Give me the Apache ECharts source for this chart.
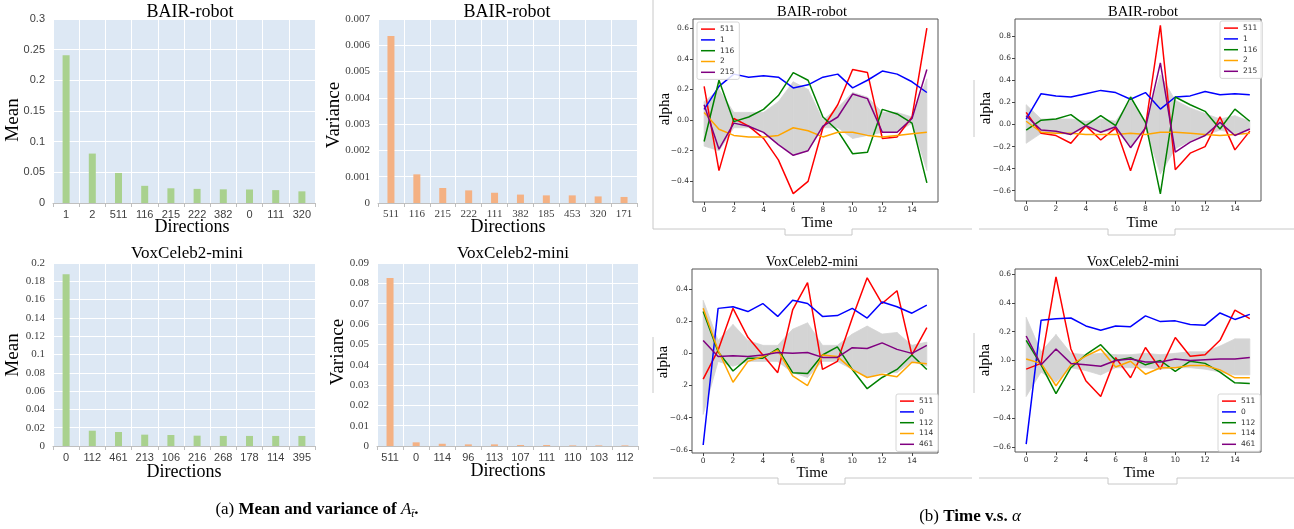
<!DOCTYPE html>
<html><head><meta charset="utf-8">
<script src="https://cdn.jsdelivr.net/npm/echarts@6/dist/echarts.min.js"></script>
<style>html,body{margin:0;padding:0;background:#fff}#c{width:1294px;height:529px}</style>
</head><body><div id="c"></div>
<script>
// ---------------- bar charts (a) ----------------
const BAIR_MEAN_DIRS = ['1','2','511','116','215','222','382','0','111','320'];
const BAIR_MEAN = [0.241,0.0806,0.049,0.028,0.024,0.023,0.0223,0.022,0.021,0.019];
const BAIR_VAR_DIRS = ['511','116','215','222','111','382','185','453','320','171'];
const BAIR_VAR = [0.00635,0.00109,0.00057,0.00048,0.00039,0.00032,0.00029,0.00029,0.00025,0.00023];
const VOX_MEAN_DIRS = ['0','112','461','213','106','216','268','178','114','395'];
const VOX_MEAN = [0.1876,0.0167,0.0153,0.0124,0.012,0.0113,0.011,0.011,0.011,0.011];
const VOX_VAR_DIRS = ['511','0','114','96','113','107','111','110','103','112'];
const VOX_VAR = [0.0826,0.0018,0.0011,0.0008,0.0008,0.0005,0.0005,0.0003,0.0003,0.0003];

// ---------------- line charts (b) ----------------
const TIME = [0,1,2,3,4,5,6,7,8,9,10,11,12,13,14,15];
const TIME_TICKS = [0,2,4,6,8,10,12,14];

// BAIR-robot, left
const A_NAMES = ['511','1','116','2','215'];
const A_511 = [0.22,-0.33,0.01,-0.04,-0.12,-0.26,-0.48,-0.40,-0.05,0.10,0.33,0.31,-0.12,-0.11,0.02,0.60];
const A_1   = [0.07,0.22,0.30,0.28,0.29,0.28,0.21,0.23,0.28,0.30,0.21,0.26,0.32,0.30,0.25,0.18];
const A_116 = [-0.14,0.26,-0.01,0.02,0.07,0.16,0.31,0.26,0.02,-0.07,-0.22,-0.21,0.07,0.04,-0.02,-0.41];
const A_2   = [0.05,-0.06,-0.10,-0.11,-0.11,-0.10,-0.05,-0.07,-0.11,-0.08,-0.08,-0.10,-0.11,-0.10,-0.09,-0.08];
const A_215 = [0.10,-0.19,-0.02,-0.04,-0.08,-0.16,-0.23,-0.20,-0.04,0.02,0.17,0.14,-0.08,-0.08,0.01,0.33];
const A_HI  = [0.12,0.20,0.05,0.05,0.05,0.12,0.25,0.20,0.00,0.08,0.18,0.15,0.05,0.05,0.02,0.27];
const A_LO  = [-0.17,-0.20,-0.05,-0.05,-0.08,-0.15,-0.23,-0.20,-0.05,-0.05,-0.12,-0.10,-0.08,-0.08,-0.02,-0.33];
const A_Y_TICKS = [-0.4,-0.2,0,0.2,0.4,0.6];

// BAIR-robot, right
const B_511 = [0.11,-0.08,-0.10,-0.17,-0.01,-0.14,-0.03,-0.42,-0.02,0.90,-0.41,-0.26,-0.20,0.07,-0.23,-0.06];
const B_1   = [0.05,0.28,0.26,0.25,0.28,0.31,0.29,0.23,0.29,0.14,0.25,0.26,0.30,0.27,0.28,0.27];
const B_116 = [-0.05,0.04,0.05,0.09,-0.01,0.08,-0.01,0.25,0.02,-0.63,0.25,0.18,0.12,-0.04,0.14,0.03];
const B_2   = [0.03,-0.07,-0.08,-0.08,-0.09,-0.09,-0.09,-0.08,-0.09,-0.07,-0.07,-0.08,-0.09,-0.10,-0.09,-0.08];
const B_215 = [0.08,-0.05,-0.06,-0.09,-0.01,-0.07,-0.02,-0.21,-0.03,0.56,-0.25,-0.16,-0.10,0.02,-0.10,-0.04];
const B_HI  = [0.18,0.05,0.05,0.05,0.03,0.05,0.03,0.22,0.02,0.45,0.22,0.15,0.10,0.05,0.08,0.03];
const B_LO  = [-0.17,-0.08,-0.08,-0.09,-0.03,-0.07,-0.05,-0.20,-0.03,-0.45,-0.22,-0.15,-0.10,-0.05,-0.08,-0.05];
const B_Y_TICKS = [-0.6,-0.4,-0.2,0,0.2,0.4,0.6,0.8];

// VoxCeleb2-mini, left
const C_NAMES = ['511','0','112','114','461'];
const C_511 = [-0.16,0.02,0.28,0.10,-0.01,-0.12,0.27,0.44,-0.10,-0.05,0.22,0.47,0.31,0.39,-0.01,0.16];
const C_0   = [-0.57,0.28,0.29,0.26,0.31,0.23,0.33,0.31,0.23,0.235,0.28,0.22,0.32,0.29,0.25,0.30];
const C_112 = [0.26,0.01,-0.11,-0.03,-0.03,0.03,-0.12,-0.125,-0.01,0.04,-0.10,-0.22,-0.15,-0.10,-0.01,-0.10];
const C_114 = [0.28,0.02,-0.18,-0.05,-0.02,0.02,-0.14,-0.20,-0.01,-0.02,-0.10,-0.15,-0.13,-0.145,-0.055,-0.065];
const C_461 = [0.08,-0.02,-0.015,-0.02,-0.01,0.005,0.0,0.005,-0.025,-0.025,0.035,0.03,0.065,0.025,0.0,0.05];
const C_HI  = [0.33,0.08,0.18,0.08,0.05,0.05,0.15,0.19,0.05,0.05,0.12,0.17,0.12,0.13,0.05,0.07];
const C_LO  = [-0.38,-0.05,-0.08,-0.05,-0.05,-0.05,-0.12,-0.15,-0.05,-0.05,-0.10,-0.15,-0.12,-0.12,-0.05,-0.08];
const C_Y_TICKS = [-0.6,-0.4,-0.2,0,0.2,0.4];

// VoxCeleb2-mini, right
const D_511 = [-0.06,-0.02,0.58,0.08,-0.14,-0.25,0.02,-0.12,0.09,-0.06,0.16,0.03,0.04,0.14,0.35,0.29];
const D_0   = [-0.58,0.28,0.29,0.295,0.24,0.21,0.24,0.235,0.31,0.27,0.275,0.25,0.245,0.33,0.285,0.32];
const D_112 = [0.14,-0.03,-0.23,-0.05,0.04,0.11,0.0,0.02,-0.03,0.0,-0.075,-0.005,-0.02,-0.08,-0.155,-0.16];
const D_114 = [0.01,-0.02,-0.175,-0.03,0.03,0.08,-0.045,-0.005,-0.095,-0.05,-0.05,-0.035,-0.035,-0.065,-0.12,-0.12];
const D_461 = [0.17,-0.03,0.08,-0.02,-0.03,-0.04,0.0,0.01,-0.01,-0.01,0.01,0.0,0.005,0.01,0.01,0.02];
const D_HI  = [0.30,0.06,0.18,0.05,0.04,0.05,0.04,0.04,0.05,0.04,0.05,0.06,0.06,0.10,0.15,0.15];
const D_LO  = [-0.25,-0.08,-0.15,-0.05,-0.07,-0.10,-0.05,-0.05,-0.05,-0.06,-0.05,-0.05,-0.06,-0.08,-0.10,-0.10];
const D_Y_TICKS = [-0.6,-0.4,-0.2,0,0.2,0.4,0.6];

const LINE_COLORS = ['#ff0000','#0000ff','#008000','#ffa500','#800080'];

// ---------------- build option ----------------
const grids = [], xAxes = [], yAxes = [], series = [], legends = [], graphics = [];
const SERIF = 'Liberation Serif';
const SANS = 'Liberation Sans';

function addBar(rect, cats, vals, color, yMax, yInt, yFont, xFont) {
  const gi = grids.length;
  grids.push({left: rect[0], top: rect[1], width: rect[2], height: rect[3], show: true,
    backgroundColor: '#dde8f4', borderWidth: 0});
  xAxes.push({type: 'category', gridIndex: gi, data: cats,
    axisLine: {lineStyle: {color: '#bfbfbf'}},
    axisTick: {show: true, length: 4, lineStyle: {color: '#bfbfbf'}},
    axisLabel: {color: '#404040', fontSize: 11, fontFamily: xFont, margin: 6},
    splitLine: {show: true, lineStyle: {color: '#ffffff', width: 1}}});
  yAxes.push({type: 'value', gridIndex: gi, min: 0, max: yMax, interval: yInt,
    axisLine: {show: false}, axisTick: {show: false},
    axisLabel: {color: '#404040', fontSize: 11, fontFamily: yFont, margin: 8},
    splitLine: {show: true, lineStyle: {color: '#ffffff', width: 1}}});
  series.push({type: 'bar', xAxisIndex: gi, yAxisIndex: gi, data: vals, barWidth: 7,
    itemStyle: {color: color}, silent: true});
}

function fmtTick(v) {
  const s = Math.abs(v).toFixed(1);
  return v < -1e-9 ? '\u2212' + s : s;
}

function bandRender(params, api) {
  const i = params.dataIndexInside;
  if (i >= TIME.length - 1) return null;
  const p0h = api.coord([api.value(0, i), api.value(2, i)]);
  const p1h = api.coord([api.value(0, i + 1), api.value(2, i + 1)]);
  const p1l = api.coord([api.value(0, i + 1), api.value(1, i + 1)]);
  const p0l = api.coord([api.value(0, i), api.value(1, i)]);
  return {type: 'polygon', shape: {points: [p0h, p1h, p1l, p0l]},
    style: {fill: '#d4d4d4', stroke: '#d4d4d4', lineWidth: 0.8}};
}

function addLine(rect, yMin, yMax, yTicks, names, arrs, lo, hi, legendPos) {
  const gi = grids.length;
  grids.push({left: rect[0], top: rect[1], width: rect[2], height: rect[3], show: true,
    backgroundColor: 'transparent', borderColor: '#555', borderWidth: 1});
  xAxes.push({type: 'value', gridIndex: gi, min: -0.75, max: 15.75,
    axisLine: {show: false, onZero: false},
    axisTick: {show: true, customValues: TIME_TICKS, length: 3, lineStyle: {color: '#444'}},
    axisLabel: {customValues: TIME_TICKS, fontSize: 7.5, color: '#333', fontFamily: 'DejaVu Sans', margin: 4},
    splitLine: {show: false}});
  yAxes.push({type: 'value', gridIndex: gi, min: yMin, max: yMax,
    axisLine: {show: false, onZero: false},
    axisTick: {show: true, customValues: yTicks, length: 3, lineStyle: {color: '#444'}},
    axisLabel: {customValues: yTicks, fontSize: 7.5, color: '#333', fontFamily: 'DejaVu Sans', margin: 4,
      formatter: fmtTick},
    splitLine: {show: false}});
  series.push({type: 'custom', name: 'band-' + gi, xAxisIndex: gi, yAxisIndex: gi,
    data: TIME.map((t, i) => [t, lo[i], hi[i]]), encode: {x: 0, y: [1, 2]},
    renderItem: bandRender, clip: true, silent: true, z: 1});
  names.forEach((nm, k) => {
    series.push({type: 'line', name: nm, xAxisIndex: gi, yAxisIndex: gi,
      data: TIME.map((t, i) => [t, arrs[k][i]]), symbol: 'none', silent: true, z: 3,
      color: LINE_COLORS[k],
      lineStyle: {color: LINE_COLORS[k], width: 1.5}});
  });
  legends.push({orient: 'vertical', left: legendPos[0], top: legendPos[1], data: names,
    icon: 'rect', itemWidth: 14, itemHeight: 1.5, itemGap: 2.6, selectedMode: false,
    textStyle: {fontSize: 7.5, color: '#333', fontFamily: 'DejaVu Sans', lineHeight: 8.2},
    padding: [3, 5, 3, 4], borderColor: '#cccccc', borderWidth: 0.8, borderRadius: 2,
    backgroundColor: 'rgba(255,255,255,0.85)'});
}

addBar([53, 19, 262, 184], BAIR_MEAN_DIRS, BAIR_MEAN, '#a9d18e', 0.3, 0.05, SANS, SANS);
addBar([378, 19, 259, 184], BAIR_VAR_DIRS, BAIR_VAR, '#f4b183', 0.007, 0.001, SERIF, SERIF);
addBar([53, 263, 262, 183], VOX_MEAN_DIRS, VOX_MEAN, '#a9d18e', 0.2, 0.02, SERIF, SANS);
addBar([377, 263, 261, 183], VOX_VAR_DIRS, VOX_VAR, '#f4b183', 0.09, 0.01, SERIF, SANS);

addLine([693, 19, 245, 183], -0.535, 0.66, A_Y_TICKS, A_NAMES, [A_511, A_1, A_116, A_2, A_215], A_LO, A_HI, [697, 22]);
addLine([1015, 19, 246, 182], -0.694, 0.958, B_Y_TICKS, A_NAMES, [B_511, B_1, B_116, B_2, B_215], B_LO, B_HI, [1220, 21]);
addLine([692, 269, 246, 184], -0.62, 0.525, C_Y_TICKS, C_NAMES, [C_511, C_0, C_112, C_114, C_461], C_LO, C_HI, [896, 394]);
addLine([1015, 269, 246, 183], -0.635, 0.635, D_Y_TICKS, C_NAMES, [D_511, D_0, D_112, D_114, D_461], D_LO, D_HI, [1218, 394]);

// ---------------- text & frame decorations ----------------
function txt(x, y, text, size, opts) {
  opts = opts || {};
  return {type: 'text', x: x, y: y, rotation: opts.rot || 0, z: 100, silent: true,
    style: {text: text, fontSize: size, fontFamily: opts.family || SERIF, fontWeight: opts.weight || 'normal',
      fill: opts.color || '#000', align: 'center', verticalAlign: 'middle',
      textAlign: 'center', textVerticalAlign: 'middle'}};
}
function rect(x, y, w, h) {
  return {type: 'rect', z: 99, silent: true, shape: {x: x, y: y, width: w, height: h},
    style: {fill: '#ffffff', stroke: null}};
}
function poly(points) {
  return {type: 'polyline', z: 98, silent: true, shape: {points: points},
    style: {stroke: '#c8c8c8', lineWidth: 1, fill: null}};
}

// frames of the pasted line-plot images
graphics.push(poly([[653, 0], [653, 229], [785, 229], [785, 235], [852, 235], [852, 229], [972, 229]]));
graphics.push(poly([[979, 229], [1108, 229], [1108, 235], [1175, 235], [1175, 229], [1294, 229]]));
graphics.push(poly([[653, 478], [778, 478], [778, 484], [845, 484], [845, 478], [972, 478]]));
graphics.push(poly([[979, 478], [1108, 478], [1108, 484], [1177, 484], [1177, 478], [1294, 478]]));
// "alpha" label boxes
graphics.push(rect(654, 81, 22, 57));
graphics.push(rect(975, 80, 24, 57));
graphics.push(rect(654, 337, 28, 56));
graphics.push(rect(975, 333, 26, 61));
graphics.push(poly([[974, 80], [974, 137]]));
graphics.push(poly([[653, 337], [653, 393]]));
graphics.push(poly([[974, 333], [974, 393]]));

// bar chart titles & axis names
graphics.push(txt(190, 12, 'BAIR-robot', 18));
graphics.push(txt(507, 12, 'BAIR-robot', 18));
graphics.push(txt(187, 254, 'VoxCeleb2-mini', 17));
graphics.push(txt(513, 254, 'VoxCeleb2-mini', 17));
graphics.push(txt(13, 120, 'Mean', 19, {rot: Math.PI / 2}));
graphics.push(txt(334, 115, 'Variance', 19, {rot: Math.PI / 2}));
graphics.push(txt(13, 355, 'Mean', 19, {rot: Math.PI / 2}));
graphics.push(txt(338, 352, 'Variance', 19, {rot: Math.PI / 2}));
graphics.push(txt(192, 227, 'Directions', 18));
graphics.push(txt(508, 227, 'Directions', 18));
graphics.push(txt(184, 472, 'Directions', 18));
graphics.push(txt(508, 471, 'Directions', 18));

// line chart titles & axis names
graphics.push(txt(812, 12, 'BAIR-robot', 14.5));
graphics.push(txt(1143, 12, 'BAIR-robot', 14.5));
graphics.push(txt(812, 262, 'VoxCeleb2-mini', 14));
graphics.push(txt(1133, 262, 'VoxCeleb2-mini', 14));
graphics.push(txt(665, 109, 'alpha', 15, {rot: Math.PI / 2}));
graphics.push(txt(986, 108, 'alpha', 15, {rot: Math.PI / 2}));
graphics.push(txt(663, 362, 'alpha', 15, {rot: Math.PI / 2}));
graphics.push(txt(985, 360, 'alpha', 15, {rot: Math.PI / 2}));
graphics.push(txt(817, 223, 'Time', 15));
graphics.push(txt(1142, 223, 'Time', 15));
graphics.push(txt(812, 473, 'Time', 15));
graphics.push(txt(1139, 473, 'Time', 15));

// captions
graphics.push({type: 'text', x: 317, y: 510, z: 100, silent: true,
  style: {text: '{n|(a) }{b|Mean and variance of }{i|A}{s|t\u0304}{b|.}',
    align: 'center', verticalAlign: 'middle', textAlign: 'center', textVerticalAlign: 'middle',
    rich: {
      n: {fontSize: 17, fontFamily: SERIF, fill: '#000', color: '#000'},
      b: {fontSize: 17, fontFamily: SERIF, fontWeight: 'bold', fill: '#000', color: '#000'},
      i: {fontSize: 17, fontFamily: SERIF, fontStyle: 'italic', fill: '#000', color: '#000'},
      s: {fontSize: 11, fontFamily: SERIF, fontStyle: 'italic', fill: '#000', color: '#000', padding: [8, 0, 0, 0]}
    }}});
graphics.push({type: 'text', x: 970, y: 517, z: 100, silent: true,
  style: {text: '{n|(b) }{b|Time v.s. }{i|\u03b1}',
    align: 'center', verticalAlign: 'middle', textAlign: 'center', textVerticalAlign: 'middle',
    rich: {
      n: {fontSize: 17, fontFamily: SERIF, fill: '#000', color: '#000'},
      b: {fontSize: 17, fontFamily: SERIF, fontWeight: 'bold', fill: '#000', color: '#000'},
      i: {fontSize: 17, fontFamily: SERIF, fontStyle: 'italic', fill: '#000', color: '#000'}
    }}});

const chart = echarts.init(document.getElementById('c'), null, {renderer: 'canvas'});
chart.setOption({
  animation: false,
  backgroundColor: '#ffffff',
  grid: grids,
  xAxis: xAxes,
  yAxis: yAxes,
  legend: legends,
  series: series,
  graphic: {elements: graphics}
});
</script>
</body></html>
